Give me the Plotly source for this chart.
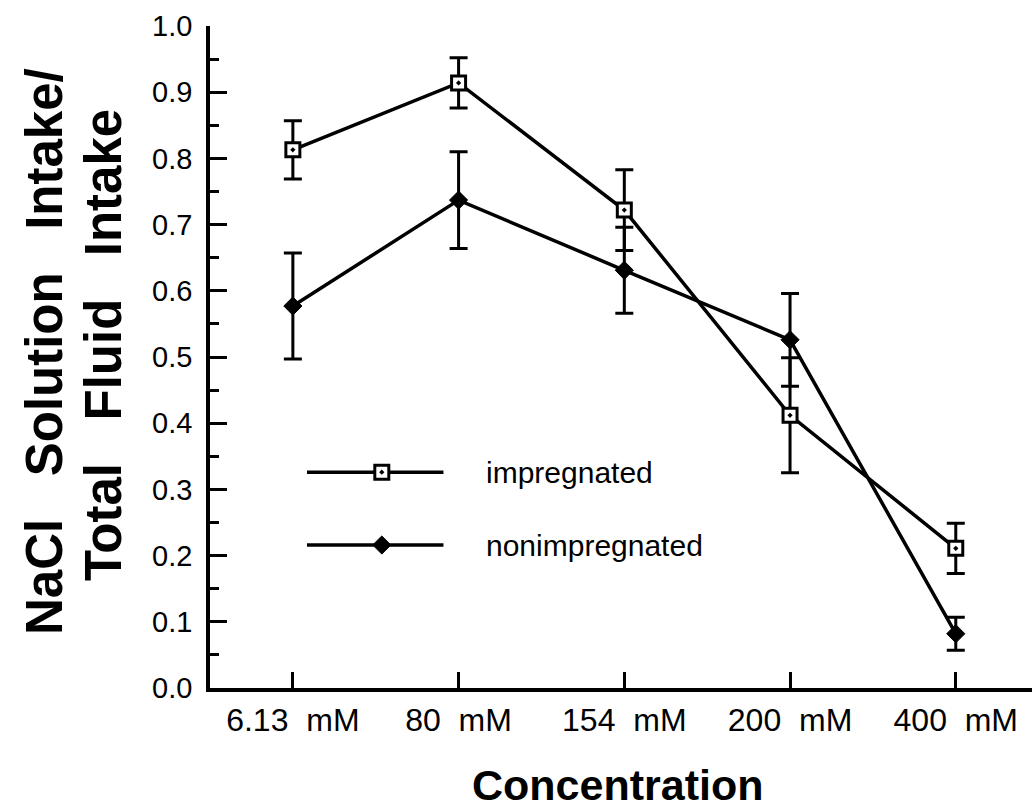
import plotly.graph_objects as go

categories = ["6.13\u00a0\u00a0mM", "80\u00a0\u00a0mM", "154\u00a0\u00a0mM", "200\u00a0\u00a0mM", "400\u00a0\u00a0mM"]
impregnated = [0.813, 0.914, 0.722, 0.412, 0.211]
impregnated_err = [0.044, 0.038, 0.061, 0.087, 0.038]
nonimpregnated = [0.577, 0.737, 0.631, 0.526, 0.082]
nonimpregnated_err = [0.080, 0.073, 0.065, 0.070, 0.025]
y_ticks = [0.0, 0.1, 0.2, 0.3, 0.4, 0.5, 0.6, 0.7, 0.8, 0.9, 1.0]

FONT = "Liberation Sans, Arial, Helvetica, sans-serif"
BLACK = "black"
SP = "\u00a0\u00a0\u00a0"

fig = go.Figure()

fig.add_trace(go.Scatter(
    x=categories, y=nonimpregnated, mode="lines+markers", name="nonimpregnated",
    line=dict(color=BLACK, width=3.5),
    marker=dict(symbol="diamond", size=14, color=BLACK, line=dict(color=BLACK, width=1)),
    error_y=dict(type="data", array=nonimpregnated_err, visible=True,
                 color=BLACK, thickness=3, width=9),
    showlegend=False,
))
fig.add_trace(go.Scatter(
    x=categories, y=impregnated, mode="lines+markers", name="impregnated",
    line=dict(color=BLACK, width=3.5),
    marker=dict(symbol="square-dot", size=14, color="white", line=dict(color=BLACK, width=3)),
    error_y=dict(type="data", array=impregnated_err, visible=True,
                 color=BLACK, thickness=3, width=9),
    showlegend=False,
))

# Hand-drawn legend on an invisible overlay axis (0..1 coordinates of the plot area)
leg_x = [0.118, 0.284]
leg_mx = [0.209]
leg_y_imp = 0.326
leg_y_non = 0.216
fig.add_trace(go.Scatter(x=leg_x, y=[leg_y_imp, leg_y_imp], mode="lines",
                         line=dict(color=BLACK, width=3.5), xaxis="x2", yaxis="y2",
                         showlegend=False, hoverinfo="skip"))
fig.add_trace(go.Scatter(x=leg_mx, y=[leg_y_imp], mode="markers",
                         marker=dict(symbol="square-dot", size=14, color="white",
                                     line=dict(color=BLACK, width=3)),
                         xaxis="x2", yaxis="y2", showlegend=False, hoverinfo="skip"))
fig.add_trace(go.Scatter(x=leg_x, y=[leg_y_non, leg_y_non], mode="lines",
                         line=dict(color=BLACK, width=3.5), xaxis="x2", yaxis="y2",
                         showlegend=False, hoverinfo="skip"))
fig.add_trace(go.Scatter(x=leg_mx, y=[leg_y_non], mode="markers",
                         marker=dict(symbol="diamond", size=14, color=BLACK,
                                     line=dict(color=BLACK, width=1)),
                         xaxis="x2", yaxis="y2", showlegend=False, hoverinfo="skip"))

fig.add_annotation(x=0.333, y=leg_y_imp, xref="x2", yref="y2", text="impregnated",
                   showarrow=False, xanchor="left", yanchor="middle",
                   font=dict(family=FONT, size=30, color=BLACK))
fig.add_annotation(x=0.333, y=leg_y_non, xref="x2", yref="y2", text="nonimpregnated",
                   showarrow=False, xanchor="left", yanchor="middle",
                   font=dict(family=FONT, size=30, color=BLACK))

# Axis titles (y title as two rotated lines)
fig.add_annotation(x=-0.2007, y=0.5076, xref="paper", yref="paper",
                   text="NaCl" + SP + "Solution" + SP + "Intake/",
                   textangle=-90, showarrow=False,
                   xanchor="center", yanchor="middle",
                   font=dict(family=FONT, size=51, color=BLACK, weight="bold"))
fig.add_annotation(x=-0.1302, y=0.518, xref="paper", yref="paper",
                   text="Total" + SP + "Fluid" + SP + "Intake",
                   textangle=-90, showarrow=False,
                   xanchor="center", yanchor="middle",
                   font=dict(family=FONT, size=51, color=BLACK, weight="bold"))
fig.add_annotation(x=0.496, y=-0.147, xref="paper", yref="paper",
                   text="Concentration", showarrow=False,
                   xanchor="center", yanchor="middle",
                   font=dict(family=FONT, size=43, color=BLACK, weight="bold"))

fig.update_layout(
    width=1032, height=810, autosize=False,
    margin=dict(l=210, r=0, t=26, b=122, pad=0),
    paper_bgcolor="white", plot_bgcolor="white",
    font=dict(family=FONT, color=BLACK),
    xaxis=dict(
        type="category", range=[-0.5, 4.46],
        showline=True, linecolor=BLACK, linewidth=3.5,
        ticks="inside", ticklen=16, tickwidth=3, tickcolor=BLACK,
        tickfont=dict(family=FONT, size=32, color=BLACK),
        ticklabelstandoff=1,
        showgrid=False, zeroline=False, automargin=False,
    ),
    yaxis=dict(
        range=[0, 1], tickvals=y_ticks, tickformat=".1f",
        showline=True, linecolor=BLACK, linewidth=3.5,
        ticks="inside", ticklen=17, tickwidth=3, tickcolor=BLACK,
        minor=dict(dtick=0.05, ticks="inside", ticklen=9, tickwidth=3, tickcolor=BLACK),
        tickfont=dict(family=FONT, size=29, color=BLACK),
        ticklabelstandoff=8,
        showgrid=False, zeroline=False, automargin=False,
    ),
    xaxis2=dict(overlaying="x", range=[0, 1], visible=False, fixedrange=True),
    yaxis2=dict(overlaying="y", range=[0, 1], visible=False, fixedrange=True),
)

fig.write_html(
    "out.html",
    config={"displayModeBar": False},
    post_script="document.body.style.margin='0';document.body.style.overflow='hidden';"
                "document.documentElement.style.overflow='hidden';",
)
